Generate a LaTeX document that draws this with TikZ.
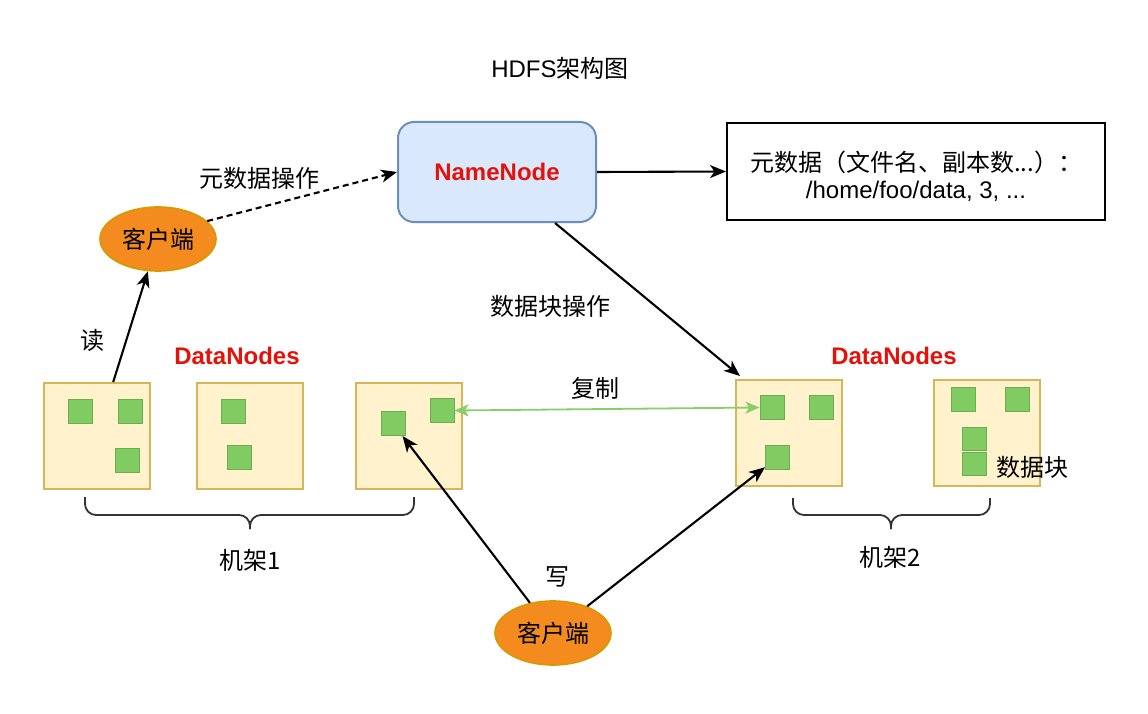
\documentclass[tikz,border=0pt]{standalone}
\usepackage{fontspec}
\setmainfont{Liberation Sans}
\newfontfamily\cjkfont{Noto Sans CJK SC}
\usetikzlibrary{arrows.meta,shapes.geometric,calc}
\definecolor{nnfill}{HTML}{DAE8FC}
\definecolor{nnline}{HTML}{6C8EBF}
\definecolor{dnfill}{HTML}{FFF2CC}
\definecolor{dnline}{HTML}{D6B656}
\definecolor{blkfill}{HTML}{80CC63}
\definecolor{blkline}{HTML}{6BAE50}
\definecolor{clfill}{HTML}{F38B1E}
\definecolor{clline}{HTML}{D69A00}
\definecolor{redtxt}{HTML}{E3120B}
\definecolor{greenln}{HTML}{86CF6A}
\begin{document}
\begin{tikzpicture}[x=1pt,y=-1pt,
  every node/.style={font=\fontsize{24}{27}\selectfont, inner sep=0pt},
  nnbox/.style={draw=nnline, fill=nnfill, line width=2pt, rounded corners=16pt,
    minimum width=198pt, minimum height=100pt, text=redtxt, font=\fontsize{24}{27}\selectfont\bfseries},
  metabox/.style={draw=black, line width=2pt, minimum width=378pt, minimum height=97pt},
  dnbox/.style={draw=dnline, fill=dnfill, line width=2pt, minimum width=106pt, minimum height=106pt},
  blk/.style={draw=blkline, fill=blkfill, line width=1pt, minimum width=24pt, minimum height=24pt},
  client/.style={ellipse, draw=clline, fill=clfill, line width=1.6pt, minimum width=116pt, minimum height=64pt,
    font=\fontsize{24}{27}\selectfont\cjkfont},
  zh/.style={font=\fontsize{24}{27}\selectfont\cjkfont},
  dnlabel/.style={text=redtxt, font=\fontsize{24}{27}\selectfont\bfseries},
  arr/.style={draw=black, line width=2.1pt, -{Stealth[length=16pt,width=13pt,inset=4.5pt]}},
  dasharr/.style={arr, dash pattern=on 6pt off 4pt},
  greenarr/.style={draw=greenln, line width=1.8pt, {Stealth[length=14pt,width=12pt,inset=3.5pt]}-{Stealth[length=14pt,width=12pt,inset=3.5pt]}},
  bracepath/.style={draw=black!80, line width=1.8pt, rounded corners=11pt}
]
\useasboundingbox (0,0) rectangle (1148,714);
\fill[white] (0,0) rectangle (1148,714);

% title
\node (title) at (560,68) {HDFS{\cjkfont 架构图}};

% NameNode and metadata
\node[nnbox] (nn) at (497,172) {NameNode};
\node[metabox] (meta) at (916,171.5) {};
\node[align=center, font=\fontsize{24}{27}\selectfont] (metatxt) at (916,176) {{\cjkfont 元数据（文件名、副本数...）：}\\/home/foo/data, 3, ...};

% clients
\node[client] (c1) at (158,239) {客户端};
\node[client] (c2) at (553,633) {客户端};

% DataNode boxes
\node[dnbox] (b1) at (97,436) {};
\node[dnbox] (b2) at (250,436) {};
\node[dnbox] (b3) at (409,436) {};
\node[dnbox] (b4) at (789,433) {};
\node[dnbox] (b5) at (987,433) {};

% blocks
\node[blk] (s1a) at (80,411) {};
\node[blk] (s1b) at (130,411) {};
\node[blk] (s1c) at (127.5,460.5) {};
\node[blk] (s2a) at (233.5,411) {};
\node[blk] (s2b) at (239.5,457) {};
\node[blk] (s3a) at (393,423.5) {};
\node[blk] (s3b) at (442,410.5) {};
\node[blk] (s4a) at (772,407.5) {};
\node[blk] (s4b) at (821,407.5) {};
\node[blk] (s4c) at (777.5,457.5) {};
\node[blk] (s5a) at (963.5,399.5) {};
\node[blk] (s5b) at (1017.5,399.5) {};
\node[blk, minimum height=23pt] (s5c) at (974,438.5) {};
\node[blk, minimum height=23pt] (s5d) at (974,463.5) {};

% labels
\node[zh] (lmeta) at (259,178) {元数据操作};
\node[zh] (lread) at (92,340) {读};
\node[dnlabel] (ldn1) at (237,356) {DataNodes};
\node[dnlabel] (ldn2) at (894,356) {DataNodes};
\node[zh] (lblockop) at (550,306) {数据块操作};
\node[zh] (lcopy) at (595,388) {复制};
\node[zh] (lwrite) at (557,577) {写};
\node[zh] (lrack1) at (250,560) {机架1};
\node[zh] (lrack2) at (890,557) {机架2};
\node[zh] (lblock) at (1032,467) {数据块};

% connectors
\draw[arr] (nn.east) -- (meta.west);
\draw[dasharr] (c1.20) -- (nn.west);
\draw[arr] ($(b1.north west)!0.65!(b1.north east)$) -- (c1);
\draw[arr] ($(nn.south)+(58,0)$) -- ($(b4.north west)+(5,-3)$);
\draw[greenarr] (s3b.east) -- (s4a.west);
\draw[arr] (c2) -- (s3a);
\draw[arr] (c2) -- (s4c);

% braces
\draw[bracepath] (85,497) -- (85,515) -- (250,515) -- (250,529);
\draw[bracepath] (414,497) -- (414,515) -- (250,515) -- (250,529);
\draw[bracepath] (793,498) -- (793,515) -- (891,515) -- (891,529);
\draw[bracepath] (990,498) -- (990,515) -- (891,515) -- (891,529);
\end{tikzpicture}
\end{document}
